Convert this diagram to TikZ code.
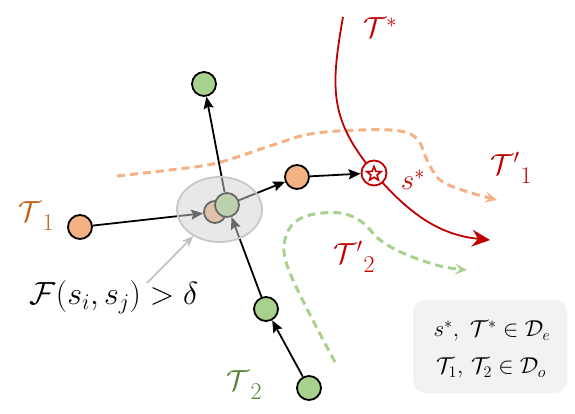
\RequirePackage{fix-cm}
\documentclass[tikz,border=0pt]{standalone}
\usetikzlibrary{arrows.meta,shapes.geometric}
\definecolor{orgfill}{HTML}{F4B183}
\definecolor{grnfill}{HTML}{A9D18E}
\definecolor{redc}{HTML}{C00000}
\definecolor{orglab}{HTML}{C55A11}
\definecolor{grnlab}{HTML}{548235}
\definecolor{legfill}{HTML}{F2F2F2}
\tikzset{
  pt/.style={circle, draw=black, line width=1.8pt, minimum size=24pt, inner sep=0pt},
  ptorg/.style={pt, fill=orgfill},
  ptgrn/.style={pt, fill=grnfill},
  blk/.style={line width=1.8pt, -{Stealth[length=12pt,width=10pt,inset=2pt]}},
  lab/.style={font=\fontsize{29}{33}\selectfont, inner sep=0pt},
  dsh/.style={line width=3pt, dash pattern=on 8pt off 5pt, -{Stealth[length=12pt,width=11pt,inset=5pt]}},
}
\newcommand{\lsub}[1]{\kern1pt\raisebox{-9pt}{\fontsize{24}{26}\selectfont #1}}
\begin{document}
\begin{tikzpicture}[x=1pt,y=-1pt]
\useasboundingbox (0,0) rectangle (575,414);
% legend
\node[fill=legfill, rounded corners=12pt, minimum width=154pt, minimum height=93pt, inner sep=0pt] (leg) at (490,346.5) {};
\node[font=\fontsize{23}{27}\selectfont, inner sep=0pt] (leg1) at (492,331) {$s^*,\ \mathcal{T}^* \in \mathcal{D}_e$};
\node[font=\fontsize{23}{27}\selectfont, inner sep=0pt] (leg2) at (491,368) {$\mathcal{T}_1,\, \mathcal{T}_2 \in \mathcal{D}_o$};
% dashed trajectories
\draw[dsh, draw=orgfill] plot[smooth, tension=0.6] coordinates {(117,176) (170,170) (217,163) (270,146) (310,134) (360,130) (400,131) (418,140) (427,160) (440,180) (465,191) (497,200)};
\draw[dsh, draw=grnfill] plot[smooth, tension=0.6] coordinates {(335,362) (306,307) (288,268) (284,245) (292,225) (310,215) (340,213) (362,222) (380,240) (405,254) (440,266) (467,270)};
% T* trajectory
\draw[redc, line width=1.8pt, -{Stealth[length=18pt,width=17pt,inset=6pt]}] (343,17) .. controls (330,90) and (330,120) .. (374,173) .. controls (410,215) and (440,235) .. (490,240);
% nodes
\node[ptgrn] (top) at (204,84) {};
\node[ptorg] (t1) at (80,227) {};
\node[ptorg] (o2) at (297,177) {};
\node[ptgrn] (g1) at (266,309) {};
\node[ptgrn] (g0) at (309,388) {};
\node[ptorg, minimum size=22pt] (co) at (215,212) {};
\node[ptgrn] (cg) at (227,205) {};
\node[circle, draw=redc, line width=1.8pt, fill=white, minimum size=25pt, inner sep=0pt] (star) at (374,173) {};
\node[star, star points=5, star point ratio=2.3, draw=redc, line width=1.6pt, fill=white, minimum size=15pt, inner sep=0pt] (starin) at (374,174) {};
% arrows
\draw[blk] (t1) -- (co);
\draw[blk] (cg) -- (top);
\draw[blk] (cg) -- (o2);
\draw[blk] (o2) -- (star);
\draw[blk] (g0) -- (g1);
\draw[blk] (g1) -- (cg);
% overlay ellipse
\node[ellipse, minimum width=85pt, minimum height=65pt, inner sep=0pt, fill=black!18, fill opacity=0.5, draw=black!22, line width=1.8pt] (ell) at (219.5,209.5) {};
% gray pointer
\coordinate (fp) at (147,283);
\draw[black!25, line width=1.6pt, -{Stealth[length=11pt,width=9pt,inset=3pt]}] (fp) -- (ell);
% labels
\node[inner sep=0pt, font=\fontsize{32}{36}\selectfont] (flab) at (114,297) {$\mathcal{F}(s_i,s_j) > \delta$};
\node[lab, text=orglab] (lt1) at (36,216) {$\mathcal{T}$\lsub{1}};
\node[lab, text=grnlab] (lt2) at (244,385) {$\mathcal{T}$\lsub{2}};
\node[lab, text=redc] (lts) at (380,28) {$\mathcal{T}^*$};
\node[lab, text=redc] (lss) at (413,180) {$s^*$};
\node[lab, text=redc] (lt1p) at (511,168) {$\mathcal{T}'$\lsub{1}};
\node[lab, text=redc] (lt2p) at (354,257) {$\mathcal{T}'$\lsub{2}};
\end{tikzpicture}
\end{document}
